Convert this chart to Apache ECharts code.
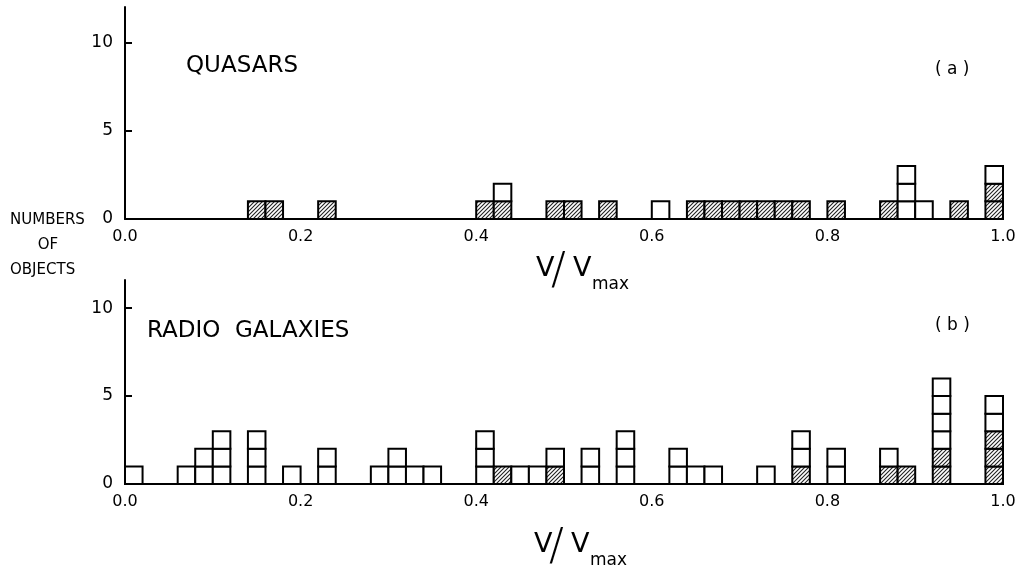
<!DOCTYPE html>
<html><head><meta charset="utf-8">
<script src="https://cdn.jsdelivr.net/npm/echarts@6/dist/echarts.min.js"></script>
<style>html,body{margin:0;padding:0;background:#fff}#c{width:1020px;height:569px}</style>
</head><body><div id="c"></div>
<script>
// ---- data ----
const binWidth = 0.02;
// (a) quasars: lower edge of each occupied bin, hatched count, open count
const quasarBins    = [0.14,0.16,0.22,0.40,0.42,0.48,0.50,0.54,0.60,0.64,0.66,0.68,0.70,0.72,0.74,0.76,0.80,0.86,0.88,0.90,0.94,0.98];
const quasarHatched = [1,   1,   1,   1,   1,   1,   1,   1,   0,   1,   1,   1,   1,   1,   1,   1,   1,   1,   0,   0,   1,   2];
const quasarOpen    = [0,   0,   0,   0,   1,   0,   0,   0,   1,   0,   0,   0,   0,   0,   0,   0,   0,   0,   3,   1,   0,   1];
// (b) radio galaxies
const radioBins    = [0.00,0.06,0.08,0.10,0.14,0.18,0.22,0.28,0.30,0.32,0.34,0.40,0.42,0.44,0.46,0.48,0.52,0.56,0.62,0.64,0.66,0.72,0.76,0.80,0.86,0.88,0.92,0.98];
const radioHatched = [0,   0,   0,   0,   0,   0,   0,   0,   0,   0,   0,   0,   1,   0,   0,   1,   0,   0,   0,   0,   0,   0,   1,   0,   1,   1,   2,   3];
const radioOpen    = [1,   1,   2,   3,   3,   1,   2,   1,   2,   1,   1,   3,   0,   1,   1,   1,   2,   3,   2,   1,   1,   1,   2,   2,   1,   0,   4,   2];
const xTickLabels = ['0.0','0.2','0.4','0.6','0.8','1.0'];
const yTickValues = [0,5,10];

// ---- build boxes ----
function boxes(bins, hatched, open) {
  const out = [];
  bins.forEach((b, i) => {
    for (let k = 0; k < hatched[i]; k++) out.push([b, k, 1]);
    for (let k = 0; k < open[i]; k++) out.push([b, hatched[i] + k, 0]);
  });
  return out;
}

// hatch pattern
const pc = document.createElement('canvas');
pc.width = 4; pc.height = 4;
const g = pc.getContext('2d');
g.fillStyle = '#fff'; g.fillRect(0, 0, 4, 4);
g.strokeStyle = '#222'; g.lineWidth = 1.1;
g.beginPath();
g.moveTo(0, 4); g.lineTo(4, 0);
g.moveTo(-1, 1); g.lineTo(1, -1);
g.moveTo(3, 5); g.lineTo(5, 3);
g.stroke();
const hatch = { image: pc, repeat: 'repeat' };

function renderBox(params, api) {
  const x0 = api.value(0), lvl = api.value(1), h = api.value(2);
  const p0 = api.coord([x0, lvl]);
  const p1 = api.coord([x0 + binWidth, lvl + 1]);
  return {
    type: 'rect',
    shape: { x: p0[0], y: p1[1], width: p1[0] - p0[0], height: p0[1] - p1[1] },
    style: { fill: h ? hatch : '#fff', stroke: '#000', lineWidth: 2 }
  };
}

const FONT = 'DejaVu Sans';
function xAxisCfg(idx) {
  return {
    gridIndex: idx, type: 'value', min: 0, max: 1, interval: 0.2,
    axisLine: { lineStyle: { color: '#000', width: 2 } },
    axisTick: { show: false }, splitLine: { show: false },
    axisLabel: { color: '#000', fontSize: 16, fontFamily: FONT, margin: 10,
      formatter: v => xTickLabels[Math.round(v / 0.2)] }
  };
}
function yAxisCfg(idx, max) {
  return {
    gridIndex: idx, type: 'value', min: 0, max: max, interval: 5,
    axisLine: { show: true, lineStyle: { color: '#000', width: 2 } },
    axisTick: { show: true, inside: true, length: 7, lineStyle: { color: '#000', width: 2 }, customValues: yTickValues },
    splitLine: { show: false },
    axisLabel: { color: '#000', fontSize: 17, fontFamily: FONT, margin: 12, customValues: yTickValues }
  };
}
function txt(x, y, text, size, align) {
  return { type: 'text', x: x, y: y, style: { text: text, fill: '#000', font: size + 'px "' + FONT + '"', align: align || 'left', verticalAlign: 'middle' } };
}
function vvmax(x, y) {
  return [
    txt(x, y, 'V', 27),
    { type: 'text', x: x + 15, y: y + 4, style: { text: '/', fill: '#000', font: '300 44px "' + FONT + '"', align: 'left', verticalAlign: 'middle' } },
    txt(x + 37, y, 'V', 27),
    txt(x + 56, y + 16, 'max', 17)
  ];
}

const chart = echarts.init(document.getElementById('c'), null, { renderer: 'canvas' });
chart.setOption({
  animation: false,
  backgroundColor: '#fff',
  grid: [
    { left: 125, right: 17, top: 7, height: 212 },
    { left: 125, right: 17, top: 280, height: 204 }
  ],
  xAxis: [xAxisCfg(0), xAxisCfg(1)],
  yAxis: [yAxisCfg(0, 12), yAxisCfg(1, 11.6)],
  series: [
    { type: 'custom', xAxisIndex: 0, yAxisIndex: 0, renderItem: renderBox, dimensions: ['x', 'level', 'hatched'], encode: { x: 0, y: 1 }, data: boxes(quasarBins, quasarHatched, quasarOpen) },
    { type: 'custom', xAxisIndex: 1, yAxisIndex: 1, renderItem: renderBox, dimensions: ['x', 'level', 'hatched'], encode: { x: 0, y: 1 }, data: boxes(radioBins, radioHatched, radioOpen) }
  ],
  graphic: [
    txt(186, 66, 'QUASARS', 23),
    txt(935, 70, '( a )', 17),
    txt(147, 331, 'RADIO  GALAXIES', 23),
    txt(935, 326, '( b )', 17),
    txt(10, 220, 'NUMBERS', 15),
    txt(48, 245, 'OF', 15, 'center'),
    txt(10, 270, 'OBJECTS', 15)
  ].concat(vvmax(536, 269)).concat(vvmax(534, 545))
});
</script></body></html>
